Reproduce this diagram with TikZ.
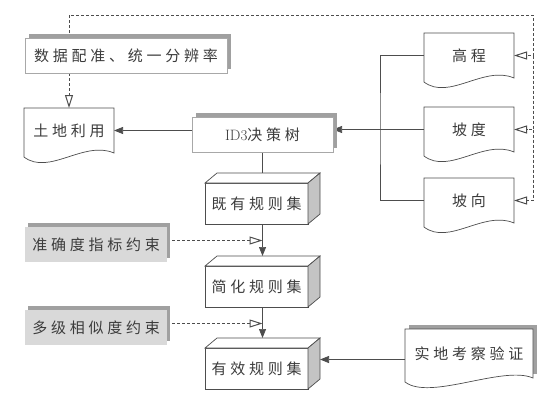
\documentclass[tikz,border=0pt]{standalone}
\usepackage{fontspec}
\usepackage{tikz}
\usetikzlibrary{arrows.meta}
\usetikzlibrary{shadows}
\usetikzlibrary{backgrounds}
\newfontfamily\cjk{Noto Sans CJK SC}[LetterSpace=25]
\definecolor{linegray}{HTML}{4D4D4D}
\definecolor{textgray}{HTML}{3C3C3C}
\definecolor{shadowgray}{HTML}{A0A0A0}
\definecolor{fillgray}{HTML}{D9D9D9}
\definecolor{sidegray}{HTML}{C4C4C4}
\definecolor{boxline}{HTML}{A8A8A8}
\tikzset{every node/.style={font=\cjk\fontsize{15pt}{18pt}\selectfont,text=textgray},
 plainbox/.style={draw=boxline,fill=white,minimum height=35pt,inner sep=0pt,outer sep=0pt,
  drop shadow={shadow xshift=4pt,shadow yshift=4pt,fill=shadowgray,opacity=1}},
 graybox/.style={fill=fillgray,minimum width=142pt,minimum height=35pt,inner sep=0pt,outer sep=0pt,
  drop shadow={shadow xshift=3pt,shadow yshift=4pt,fill=shadowgray,opacity=1}},
 rulebox/.style={draw=linegray,line width=0.7pt,fill=white,minimum width=103pt,minimum height=41pt,inner sep=0pt,outer sep=0pt},
 doc/.style={minimum width=90pt,minimum height=45pt,inner sep=0pt,outer sep=0pt},
 conn/.style={draw=linegray,line width=0.7pt},
 arr/.style={conn,-{Triangle[width=7pt,length=9pt]}},
 dasharr/.style={conn,dash pattern=on 3pt off 2pt,-{Triangle[open,width=8pt,length=13pt,line width=1pt]}},
 docline/.style={draw=linegray,line width=0.7pt,fill=white},
 faceline/.style={draw=linegray,line width=0.7pt,fill=white},
 }
\newcommand\docshape[1]{\path[docline] (#1.north west) -- ([yshift=-4pt]#1.south west)
 .. controls ([shift={(25pt,-23pt)}]#1.south west) and ([shift={(-30pt,13pt)}]#1.south east) .. (#1.south east)
 -- (#1.north east) -- cycle;}
\newcommand\boxfaces[1]{\path[faceline] (#1.north west) -- ++(12pt,10pt) -- ([shift={(12pt,10pt)}]#1.north east) -- (#1.north east) -- cycle;
 \path[faceline,fill=sidegray] (#1.north east) -- ++(12pt,10pt) -- ([shift={(12pt,10pt)}]#1.south east) -- (#1.south east) -- cycle;}
\begin{document}
\begin{tikzpicture}[x=1pt,y=-1pt]
    \useasboundingbox (0,0) rectangle (553,402);
    \node[plainbox,minimum width=202pt] (reg) at (126,55.5) {数据配准、统一分辨率};
    \node[plainbox,minimum width=141pt] (id3) at (262.5,134.5) {{\rmfamily ID3}决策树};
    \node[graybox] (acc) at (96,244.5) {准确度指标约束};
    \node[graybox] (sim) at (96,327.5) {多级相似度约束};
    \node[rulebox] (rule1) at (256.5,203.5) {既有规则集};
    \node[rulebox] (rule2) at (256.5,286.5) {简化规则集};
    \node[rulebox] (rule3) at (256.5,368.5) {有效规则集};
    \boxfaces{rule1}
    \boxfaces{rule2}
    \boxfaces{rule3}
    \node[doc] (land) at (69,130.5) {土地利用};
    \node[doc] (gc) at (469,55.5) {高程};
    \node[doc] (pd) at (469,129.5) {坡度};
    \node[doc] (px) at (469,200.5) {坡向};
    \node[doc,minimum width=128pt,minimum height=49pt] (field) at (469,353.5) {实地考察验证};
    \coordinate (topR) at (533,15);
    \coordinate (hub) at (380,129.5);
    \begin{scope}[on background layer]
        \draw[dasharr] (land.north |- reg.north) |- (topR) |- (gc.east);
        \draw[dasharr] (gc.east -| topR) |- (pd.east);
        \draw[dasharr] (pd.east -| topR) |- (px.east);
        \draw[dasharr] (reg.south -| land.north) -- (land.north);
        \draw[arr] (id3.west |- land.east) -- (land.east);
        \draw[conn] (gc.west) -| (hub) |- (px.west);
        \draw[arr] (pd.west) -- (pd.west -| id3.east);
        \draw[conn] (id3.south) -- ([shift={(6pt,10pt)}]rule1.north);
        \draw[arr] ([xshift=6pt]rule1.south) -- ([shift={(6pt,10pt)}]rule2.north);
        \draw[arr] ([xshift=6pt]rule2.south) -- ([shift={(6pt,10pt)}]rule3.north);
        \draw[dasharr] ([yshift=4pt]acc.east) -- ([yshift=4pt]acc.east -| id3.south);
        \draw[dasharr] ([yshift=4pt]sim.east) -- ([yshift=4pt]sim.east -| id3.south);
        \draw[arr] ([yshift=-6pt]field.west) -- ([xshift=12pt,yshift=-6pt]field.west -| rule3.east);
        \fill[shadowgray] ([shift={(4pt,4pt)}]field.south west) rectangle ([shift={(4pt,4pt)}]field.north east);
        \docshape{land}
        \docshape{gc}
        \docshape{pd}
        \docshape{px}
        \docshape{field}
    \end{scope}
\end{tikzpicture}
\end{document}
